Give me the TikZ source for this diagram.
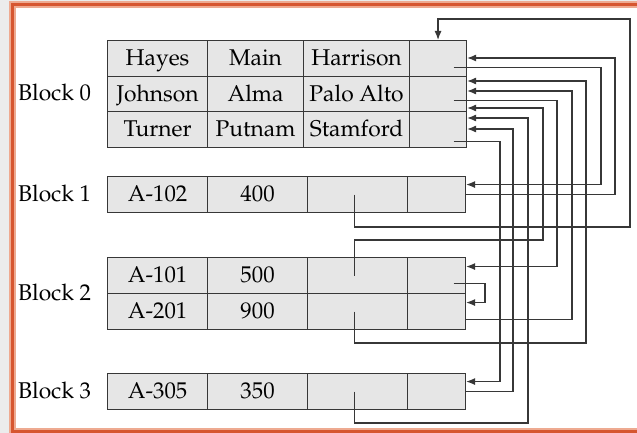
\documentclass[tikz,border=0pt]{standalone}
\usepackage[T1]{fontenc}
\usepackage{mathpazo}
\usetikzlibrary{arrows.meta,calc}
\definecolor{cellgray}{RGB}{230,230,230}
\definecolor{linegray}{RGB}{55,55,55}
\definecolor{bggray}{RGB}{236,236,236}
\definecolor{framedark}{RGB}{214,86,48}
\definecolor{framelight}{RGB}{238,170,145}
\tikzset{
  cell/.style={draw=linegray, fill=cellgray, line width=1.1pt, inner sep=0pt, anchor=north west,
    text height=17.5pt, text depth=3pt,
    font=\fontsize{22.8}{26}\selectfont},
  blocklabel/.style={anchor=west, inner sep=0pt, text height=17.5pt, text depth=3pt,
    font=\fontsize{22.8}{26}\selectfont},
  ptr/.style={draw=linegray, line width=1.2pt},
  aptr/.style={ptr, -{Latex[length=9pt,width=7pt]}}
}
\begin{document}
\begin{tikzpicture}[x=1pt,y=-1pt]
\useasboundingbox (0,0) rectangle (637,433);
\clip (0,0) rectangle (637,433);
% background and frame
\fill[bggray] (0,0) rectangle (637,433);
\fill[white] (12.5,5) rectangle (660,431);
\draw[framelight, line width=7pt] (12.5,5) rectangle (660,431);
\draw[framedark, line width=3pt] (12.5,5) rectangle (660,431);

% Block 0
\node[cell, minimum width=100pt, minimum height=35.7pt] (b0r0c0) at (107,40) {Hayes};
\node[cell, minimum width=96pt, minimum height=35.7pt] (b0r0c1) at (207,40) {Main};
\node[cell, minimum width=106pt, minimum height=35.7pt] (b0r0c2) at (303,40) {Harrison};
\node[cell, minimum width=57pt, minimum height=35.7pt] (b0r0c3) at (409,40) {};
\node[cell, minimum width=100pt, minimum height=35.7pt] (b0r1c0) at (107,75.7) {Johnson};
\node[cell, minimum width=96pt, minimum height=35.7pt] (b0r1c1) at (207,75.7) {Alma};
\node[cell, minimum width=106pt, minimum height=35.7pt] (b0r1c2) at (303,75.7) {Palo Alto};
\node[cell, minimum width=57pt, minimum height=35.7pt] (b0r1c3) at (409,75.7) {};
\node[cell, minimum width=100pt, minimum height=35.7pt] (b0r2c0) at (107,111.3) {Turner};
\node[cell, minimum width=96pt, minimum height=35.7pt] (b0r2c1) at (207,111.3) {Putnam};
\node[cell, minimum width=106pt, minimum height=35.7pt] (b0r2c2) at (303,111.3) {Stamford};
\node[cell, minimum width=57pt, minimum height=35.7pt] (b0r2c3) at (409,111.3) {};

% Block 1
\node[cell, minimum width=100pt, minimum height=36pt] (b1c0) at (107,176) {A-102};
\node[cell, minimum width=100pt, minimum height=36pt] (b1c1) at (207,176) {400};
\node[cell, minimum width=100pt, minimum height=36pt] (b1c2) at (307,176) {};
\node[cell, minimum width=58pt, minimum height=36pt] (b1c3) at (407,176) {};

% Block 2
\node[cell, minimum width=100pt, minimum height=36pt] (b2r0c0) at (107,257) {A-101};
\node[cell, minimum width=100pt, minimum height=36pt] (b2r0c1) at (207,257) {500};
\node[cell, minimum width=100pt, minimum height=36pt] (b2r0c2) at (307,257) {};
\node[cell, minimum width=58pt, minimum height=36pt] (b2r0c3) at (407,257) {};
\node[cell, minimum width=100pt, minimum height=36pt] (b2r1c0) at (107,293) {A-201};
\node[cell, minimum width=100pt, minimum height=36pt] (b2r1c1) at (207,293) {900};
\node[cell, minimum width=100pt, minimum height=36pt] (b2r1c2) at (307,293) {};
\node[cell, minimum width=58pt, minimum height=36pt] (b2r1c3) at (407,293) {};

% Block 3
\node[cell, minimum width=100pt, minimum height=36pt] (b3c0) at (107,373) {A-305};
\node[cell, minimum width=100pt, minimum height=36pt] (b3c1) at (207,373) {350};
\node[cell, minimum width=100pt, minimum height=36pt] (b3c2) at (307,373) {};
\node[cell, minimum width=58pt, minimum height=36pt] (b3c3) at (407,373) {};

% labels
\node[blocklabel] (lb0) at (18,93.5) {Block 0};
\node[blocklabel] (lb1) at (18,194) {Block 1};
\node[blocklabel] (lb2) at (18,293) {Block 2};
\node[blocklabel] (lb3) at (18,391) {Block 3};

% lanes and turning levels
\coordinate (L500) at (500,0);
\coordinate (L513) at (513,0);
\coordinate (L528) at (528,0);
\coordinate (L543) at (543,0);
\coordinate (L557) at (557,0);
\coordinate (L572) at (572,0);
\coordinate (L586) at (586,0);
\coordinate (L601) at (601,0);
\coordinate (L615) at (615,0);
\coordinate (L630) at (630,0);
\coordinate (L485) at (485,0);
\coordinate (H19) at (0,19);
\coordinate (H227) at (0,227);
\coordinate (H240) at (0,240);
\coordinate (H343) at (0,343);
\coordinate (H423) at (0,423);

% pointer starts
\coordinate (sHayes) at ($(b0r0c3.center)+(15.5,9)$);
\coordinate (sJohnson) at ($(b0r1c3.center)+(15.5,6.5)$);
\coordinate (sTurner) at ($(b0r2c3.center)+(15.5,12)$);
\coordinate (s102) at ($(b1c2.center)+(-3,0)$);
\coordinate (s101) at ($(b2r0c2.center)+(-3,0)$);
\coordinate (s201) at ($(b2r1c2.center)+(-3,0)$);
\coordinate (s305) at ($(b3c2.center)+(-3,0)$);
\coordinate (s101b) at ($(b2r0c3.center)+(17,8)$);
\coordinate (e102) at (b1c3.east);
\coordinate (e201) at ($(b2r1c3.east)+(0,8)$);
\coordinate (e305) at (b3c3.east);

% pointer targets
\coordinate (tR0a) at ($(b0r0c3.north east)+(0,18)$);
\coordinate (tR1a) at ($(b0r1c3.north east)+(0,5.3)$);
\coordinate (tR1b) at ($(b0r1c3.north east)+(0,15.3)$);
\coordinate (tR1c) at ($(b0r1c3.north east)+(0,32.3)$);
\coordinate (tR2a) at ($(b0r2c3.north east)+(0,6.7)$);
\coordinate (tR2b) at ($(b0r2c3.north east)+(0,17.7)$);
\coordinate (tB1) at ($(b1c3.east)+(0,-10)$);
\coordinate (tB2a) at ($(b2r0c3.east)+(0,-9)$);
\coordinate (tB2b) at ($(b2r1c3.east)+(0,-9)$);
\coordinate (tB3) at ($(b3c3.east)+(0,-10)$);

% connectors
\draw[aptr] (s102) -- (s102 |- H227) -- (L630 |- H227) -- (L630 |- H19) -- (b0r0c3.north |- H19) -- (b0r0c3.north);
\draw[aptr] (e102) -- (L615 |- e102) -- (L615 |- tR0a) -- (tR0a);
\draw[aptr] (sHayes) -- (L601 |- sHayes) -- (L601 |- tB1) -- (tB1);
\draw[aptr] (s201) -- (s201 |- H343) -- (L586 |- H343) -- (L586 |- tR1a) -- (tR1a);
\draw[aptr] (e201) -- (L572 |- e201) -- (L572 |- tR1b) -- (tR1b);
\draw[aptr] (sJohnson) -- (L557 |- sJohnson) -- (L557 |- tB2a) -- (tB2a);
\draw[aptr] (s101) -- (s101 |- H240) -- (L543 |- H240) -- (L543 |- tR1c) -- (tR1c);
\draw[aptr] (s305) -- (s305 |- H423) -- (L528 |- H423) -- (L528 |- tR2a) -- (tR2a);
\draw[aptr] (e305) -- (L513 |- e305) -- (L513 |- tR2b) -- (tR2b);
\draw[aptr] (sTurner) -- (L500 |- sTurner) -- (L500 |- tB3) -- (tB3);
\draw[aptr] (s101b) -- (L485 |- s101b) -- (L485 |- tB2b) -- (tB2b);
\end{tikzpicture}
\end{document}
